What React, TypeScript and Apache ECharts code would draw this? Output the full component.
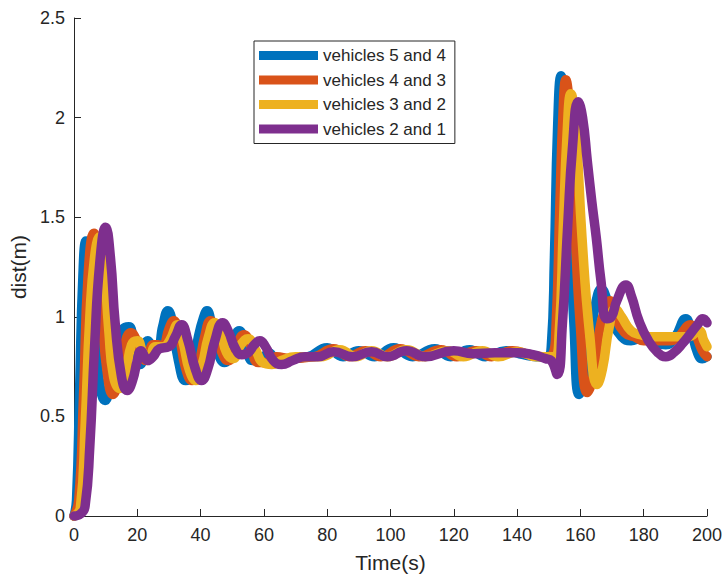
import React, { useEffect, useRef } from "react";
import * as echarts from "echarts";

const seriesNames = ["vehicles 5 and 4", "vehicles 4 and 3", "vehicles 3 and 2", "vehicles 2 and 1"];
const seriesColors = ["#0072BD", "#D95319", "#EDB120", "#7E2F8E"];

const dist54: number[][] = [
  [0, 0], [0.8, 0.08], [1.8, 0.65], [2.8, 1.2], [3.8, 1.38], [5, 1.27], [6.5, 0.95], [8, 0.68], [9.8, 0.58],
  [11.5, 0.66], [13.5, 0.86], [15.5, 0.94], [17.3, 0.95], [19, 0.86], [21, 0.76], [23.3, 0.88], [25, 0.85],
  [26.5, 0.84], [28, 0.95], [29.7, 1.03], [31, 0.98], [33, 0.78], [35.3, 0.68], [37.3, 0.73], [39.3, 0.9],
  [41, 1.0], [42, 1.03], [43.5, 0.96], [45.5, 0.82], [47.5, 0.77], [50, 0.85], [52.2, 0.93], [54, 0.88],
  [56.5, 0.78], [59, 0.78], [61.5, 0.82], [64, 0.79], [68, 0.79], [74, 0.8], [80, 0.845], [85, 0.8],
  [90, 0.83], [95, 0.8], [101, 0.845], [107, 0.8], [114, 0.84], [119, 0.8], [125, 0.835], [130, 0.8],
  [136.5, 0.83], [142, 0.81], [146, 0.8], [149.5, 0.8], [150.8, 0.85], [151.8, 1.3], [152.8, 1.95],
  [153.9, 2.21], [155, 2.05], [156.5, 1.5], [158, 0.95], [159.6, 0.61], [161, 0.66], [163, 0.88],
  [165, 1.08], [166.6, 1.14], [168.5, 1.08], [170.5, 0.97], [173, 0.9], [176, 0.88], [179, 0.89],
  [183, 0.87], [187, 0.86], [190, 0.9], [193.3, 0.99], [195, 0.93], [197, 0.82], [198.5, 0.79], [200, 0.8],
];

const dist43: number[][] = [
  [0, 0], [1.5, 0.08], [3, 0.6], [4.5, 1.22], [6.3, 1.42], [7.6, 1.3], [9, 0.98], [10.5, 0.72], [12.3, 0.61],
  [14, 0.68], [16, 0.86], [18, 0.92], [19.5, 0.89], [21.3, 0.8], [23, 0.78], [25, 0.86], [26.5, 0.86],
  [28, 0.85], [30, 0.94], [31.5, 0.98], [33.2, 0.91], [35.3, 0.74], [37.3, 0.68], [39.3, 0.75], [41.3, 0.9],
  [43.2, 0.98], [44.7, 0.95], [46.5, 0.83], [48.7, 0.78], [51.2, 0.85], [53.7, 0.91], [55.7, 0.86],
  [58.2, 0.77], [61, 0.77], [64, 0.8], [68, 0.79], [76, 0.8], [82, 0.84], [87, 0.8], [92, 0.83], [97, 0.8],
  [103, 0.84], [109, 0.8], [116, 0.835], [121, 0.8], [127, 0.83], [132, 0.8], [138.5, 0.83], [144, 0.81],
  [148, 0.8], [151.2, 0.81], [152.3, 0.95], [153.5, 1.55], [154.5, 2.02], [155.4, 2.19], [156.5, 2.05],
  [158, 1.55], [160, 0.95], [162.2, 0.62], [164, 0.7], [166, 0.93], [168, 1.05], [169.3, 1.08], [171, 1.0],
  [174, 0.92], [177, 0.9], [180, 0.88], [184, 0.88], [188, 0.88], [191, 0.9], [194.7, 0.96], [196.5, 0.91],
  [198.5, 0.83], [200, 0.8],
];

const dist32: number[][] = [
  [0, 0], [2, 0.04], [3.5, 0.45], [5, 1.0], [6.5, 1.3], [8, 1.4], [9.5, 1.25], [11, 0.93], [12.5, 0.7],
  [14.5, 0.64], [16.2, 0.71], [18.2, 0.86], [20, 0.88], [22, 0.81], [23.7, 0.79], [25.7, 0.85], [28, 0.85],
  [30.2, 0.88], [32.7, 0.96], [34.5, 0.87], [36.5, 0.73], [38.5, 0.68], [40.5, 0.76], [42.5, 0.9],
  [44.5, 0.97], [46.2, 0.93], [48.2, 0.82], [50.2, 0.79], [52.7, 0.86], [55, 0.89], [57.2, 0.84],
  [59.7, 0.77], [62.5, 0.76], [65.5, 0.78], [70, 0.8], [78, 0.8], [84, 0.835], [89, 0.8], [94, 0.83],
  [99, 0.8], [105, 0.835], [111, 0.8], [118, 0.83], [123, 0.8], [129, 0.83], [134, 0.8], [140, 0.825],
  [146, 0.8], [151.8, 0.8], [153.3, 0.92], [154.6, 1.45], [155.8, 1.92], [157, 2.12], [158.5, 1.95],
  [160.5, 1.4], [163, 0.9], [165.3, 0.66], [167, 0.74], [169, 0.94], [171, 1.04], [173, 1.0], [176, 0.93],
  [179, 0.91], [182, 0.9], [186, 0.9], [190, 0.9], [194, 0.9], [197.5, 0.93], [199, 0.88], [200, 0.85],
];

const dist21: number[][] = [
  [0, 0], [2, 0.01], [3.5, 0.05], [5, 0.35], [6.5, 0.85], [8.2, 1.28], [10, 1.45], [11.5, 1.3], [13, 0.97],
  [15, 0.7], [16.8, 0.63], [18.5, 0.68], [20, 0.78], [21.2, 0.83], [23.3, 0.78], [25, 0.8], [27, 0.84],
  [30, 0.85], [32, 0.9], [34, 0.96], [36, 0.88], [38.3, 0.74], [40.3, 0.68], [42.3, 0.74], [44.5, 0.88],
  [47, 0.97], [48.7, 0.93], [51, 0.84], [53, 0.81], [55, 0.82], [57, 0.86], [58.7, 0.88], [60.5, 0.85],
  [63, 0.78], [65.6, 0.76], [69, 0.78], [73, 0.8], [77, 0.8], [82, 0.825], [88, 0.8], [94, 0.825],
  [99, 0.8], [105, 0.83], [111, 0.8], [120, 0.83], [126, 0.815], [133, 0.82], [140, 0.82], [145, 0.81],
  [149, 0.79], [150.8, 0.78], [152.7, 0.71], [154.3, 0.96], [156, 1.46], [157.5, 1.85], [159.3, 2.08],
  [160.7, 2.0], [162.2, 1.78], [163.6, 1.58], [165, 1.4], [166.5, 1.18], [168.3, 0.99], [169.8, 1.0],
  [171.5, 1.08], [174.4, 1.16], [176.2, 1.1], [178.5, 0.98], [181.5, 0.88], [184.5, 0.82], [187, 0.8],
  [189.5, 0.82], [192.5, 0.87], [195, 0.92], [197, 0.96], [198.7, 0.99], [200, 0.97],
];

const allSeries = [dist54, dist43, dist32, dist21];

const FONT = "'Liberation Sans', Arial, Helvetica, sans-serif";
const AXIS_COLOR = "#262626";

export default function App() {
  const ref = useRef<HTMLDivElement>(null);

  useEffect(() => {
    if (!ref.current) return;
    const chart = echarts.init(ref.current, undefined, { renderer: "svg" });
    chart.setOption({
      animation: false,
      backgroundColor: "#ffffff",
      grid: { left: 74, right: 17, top: 18, bottom: 59 },
      legend: {
        orient: "vertical",
        left: 254,
        top: 41,
        icon: "rect",
        itemWidth: 59,
        itemHeight: 9,
        itemGap: 7.5,
        padding: [6, 9, 6, 5],
        backgroundColor: "#ffffff",
        borderColor: AXIS_COLOR,
        borderWidth: 1,
        borderRadius: 0,
        itemStyle: { borderWidth: 0 },
        textStyle: { fontFamily: FONT, fontSize: 17, color: AXIS_COLOR },
        data: seriesNames,
      },
      xAxis: {
        type: "value",
        min: 0,
        max: 200,
        interval: 20,
        name: "Time(s)",
        nameLocation: "middle",
        nameGap: 36,
        nameTextStyle: { fontFamily: FONT, fontSize: 21, color: AXIS_COLOR },
        axisLine: { show: true, onZero: false, lineStyle: { color: AXIS_COLOR, width: 1 } },
        axisTick: { show: true, inside: true, length: 7, lineStyle: { color: AXIS_COLOR } },
        axisLabel: { fontFamily: FONT, fontSize: 18, color: AXIS_COLOR, margin: 10 },
        splitLine: { show: false },
      },
      yAxis: {
        type: "value",
        min: 0,
        max: 2.5,
        interval: 0.5,
        name: "dist(m)",
        nameLocation: "middle",
        nameGap: 38,
        nameTextStyle: { fontFamily: FONT, fontSize: 21, color: AXIS_COLOR },
        axisLine: { show: true, onZero: false, lineStyle: { color: AXIS_COLOR, width: 1 } },
        axisTick: { show: true, inside: true, length: 7, lineStyle: { color: AXIS_COLOR } },
        axisLabel: { fontFamily: FONT, fontSize: 18, color: AXIS_COLOR, margin: 9 },
        splitLine: { show: false },
      },
      series: allSeries.map((d, i) => ({
        name: seriesNames[i],
        type: "line",
        data: d,
        showSymbol: false,
        symbol: "none",
        smooth: 0.5,
        clip: false,
        color: seriesColors[i],
        lineStyle: { color: seriesColors[i], width: 9.5, cap: "round", join: "round" },
        itemStyle: { color: seriesColors[i] },
        z: 2 + i,
      })),
    });
    return () => chart.dispose();
  }, []);

  return (
    <div
      ref={ref}
      style={{ position: "fixed", left: 0, top: 0, width: 725, height: 578, background: "#fff" }}
    />
  );
}
